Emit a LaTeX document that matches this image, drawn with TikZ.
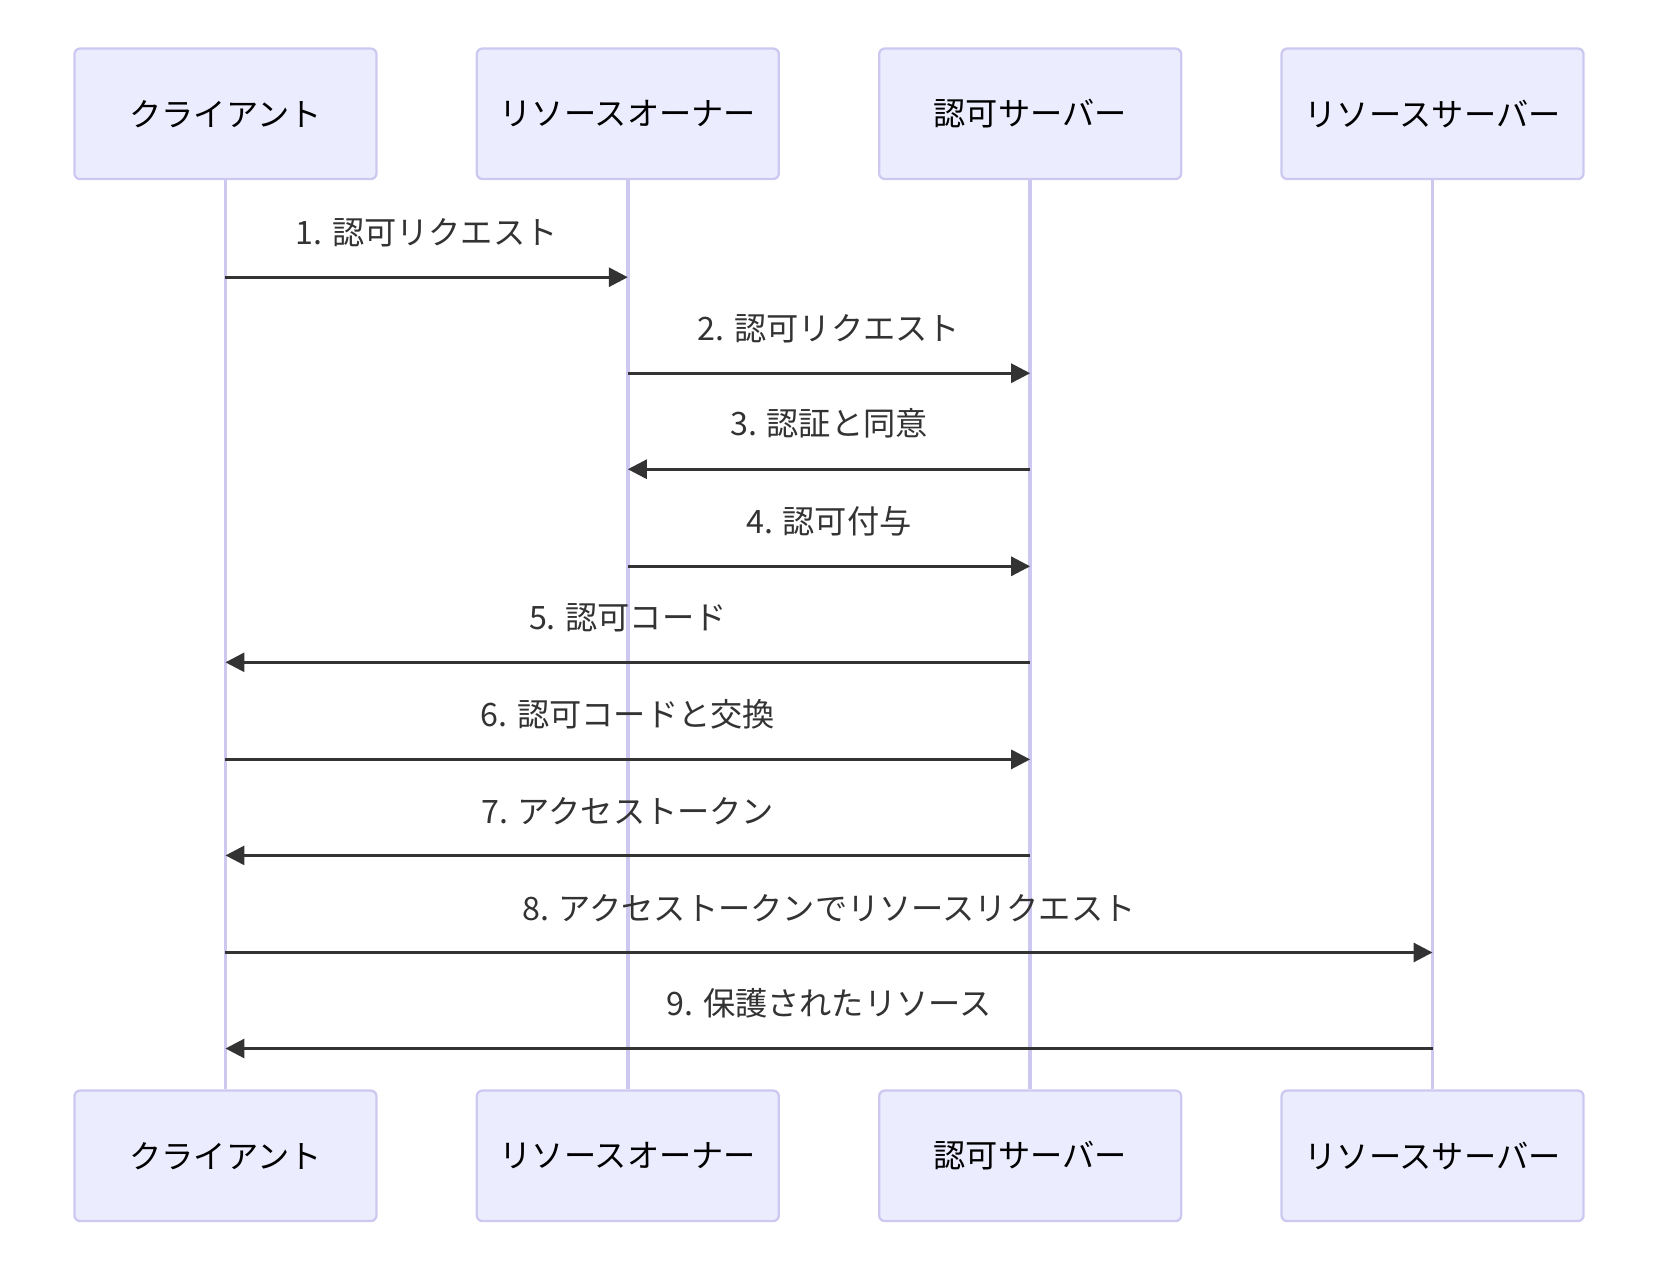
\documentclass[tikz,border=0pt]{standalone}
\usepackage{fontspec}
\setmainfont{Noto Sans CJK JP}
\usetikzlibrary{arrows.meta,positioning}
\definecolor{actorfill}{HTML}{ECECFF}
\definecolor{actorline}{RGB}{205,200,240}
\definecolor{msgline}{HTML}{333333}
\tikzset{
    % Box styles
    actor box/.style={
        draw=actorline,
        fill=actorfill,
        rectangle,
        rounded corners=1.5pt,
        line width=0.6pt,
        minimum height=1.21cm,
        minimum width=2.8cm,
        font=\fontsize{8.5}{10}\selectfont
    },
    life line/.style={actorline, line width=1pt},
    % Arrow styles
    msg arrow/.style={
        -{Triangle[length=5pt,width=5pt]},
        line width=0.8pt,
        msgline
    },
    msg label/.style={font=\fontsize{8.5}{10}\selectfont, text=msgline, above=0.16cm}
}
\begin{document}
\begin{tikzpicture}
    \useasboundingbox (0,0) rectangle (15.5,-11.7);
    % Actors and lifelines
    \foreach \n/\x/\t in {cl/2.09/クライアント, ro/5.82/リソースオーナー, as/9.55/認可サーバー, rs/13.28/リソースサーバー} {
        \node[actor box] at (\x,-1.055) (\n top) {\t};
        \node[actor box] at (\x,-10.715) (\n bot) {\t};
        \draw[life line] (\n top.south) -- (\n bot.north);
    }

    % Messages
    \foreach \i/\a/\b/\y/\t in {1/cl/ro/2.57/1. 認可リクエスト, 2/ro/as/3.46/2. 認可リクエスト,
        3/as/ro/4.35/3. 認証と同意, 4/ro/as/5.25/4. 認可付与, 5/as/cl/6.14/5. 認可コード,
        6/cl/as/7.04/6. 認可コードと交換, 7/as/cl/7.93/7. アクセストークン,
        8/cl/rs/8.83/8. アクセストークンでリソースリクエスト, 9/rs/cl/9.72/9. 保護されたリソース} {
        \coordinate (s\i) at (\a top |- 0,-\y);
        \coordinate (e\i) at (\b top |- 0,-\y);
        \draw[msg arrow] (s\i) -- (e\i);
        \path (s\i) -- node[msg label] {\t} (e\i);
    }
\end{tikzpicture}
\end{document}
